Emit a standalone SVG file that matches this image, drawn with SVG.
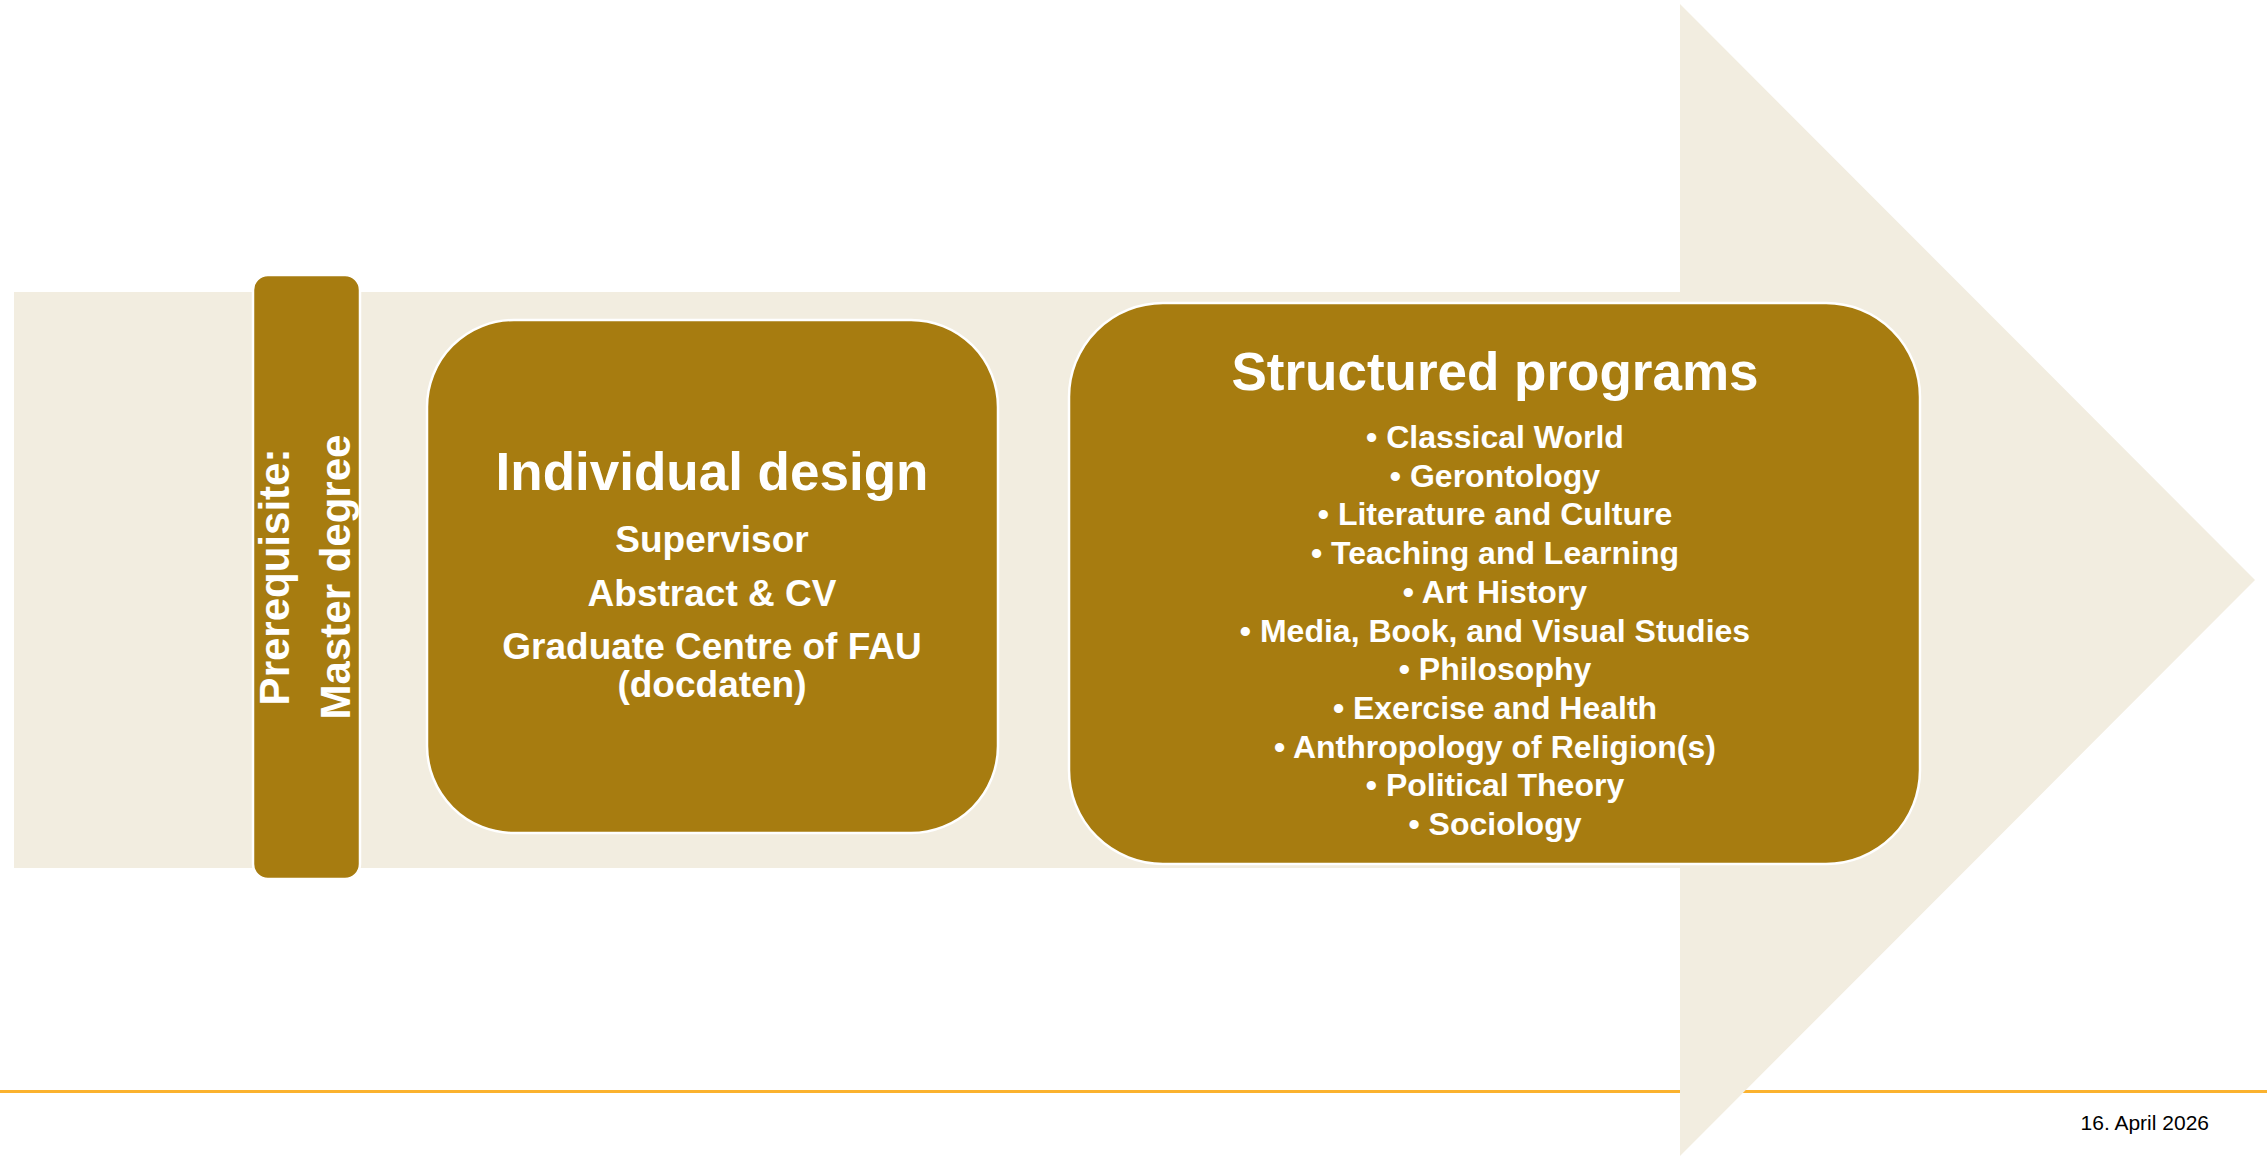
<svg xmlns="http://www.w3.org/2000/svg" width="2267" height="1157" viewBox="0 0 2267 1157">
<style>
.box{fill:#A77C10;stroke:#FFFFFF;stroke-width:2.5}
.t{font-family:"Liberation Sans",Arial,sans-serif;font-weight:bold;fill:#FFFFFF;text-anchor:middle}
.h{font-size:53px}
.s{font-size:37px}
.l{font-size:32px}
.v{font-size:42px}
</style>
<rect x="0" y="0" width="2267" height="1157" fill="#FFFFFF"/>
<line x1="0" y1="1091.5" x2="2267" y2="1091.5" stroke="#FBB22F" stroke-width="3"/>
<polygon id="arrow" points="14,292 1680,292 1680,4 2255,580 1680,1156 1680,868 14,868" fill="#F2EDE0"/>
<g id="prerequisite">
<rect class="box" x="253" y="275" width="107" height="604" rx="15" ry="15"/>
<text class="t v" transform="translate(289,577) rotate(-90)" x="0" y="0">Prerequisite:</text>
<text class="t v" transform="translate(350,577) rotate(-90)" x="0" y="0">Master degree</text>
</g>
<g id="individual">
<rect class="box" x="427" y="320" width="571" height="513" rx="87" ry="87"/>
<text class="t h" x="712" y="490">Individual design</text>
<text class="t s" x="712" y="552">Supervisor</text>
<text class="t s" x="712" y="606">Abstract &amp; CV</text>
<text class="t s" x="712" y="659">Graduate Centre of FAU</text>
<text class="t s" x="712" y="697">(docdaten)</text>
</g>
<g id="structured">
<rect class="box" x="1069" y="303" width="851" height="561" rx="94" ry="94"/>
<text class="t h" x="1495" y="390">Structured programs</text>
<text class="t l" x="1495" y="448">• Classical World</text>
<text class="t l" x="1495" y="486.7">• Gerontology</text>
<text class="t l" x="1495" y="525.4">• Literature and Culture</text>
<text class="t l" x="1495" y="564.1">• Teaching and Learning</text>
<text class="t l" x="1495" y="602.8">• Art History</text>
<text class="t l" x="1495" y="641.5">• Media, Book, and Visual Studies</text>
<text class="t l" x="1495" y="680.2">• Philosophy</text>
<text class="t l" x="1495" y="718.9">• Exercise and Health</text>
<text class="t l" x="1495" y="757.6">• Anthropology of Religion(s)</text>
<text class="t l" x="1495" y="796.3">• Political Theory</text>
<text class="t l" x="1495" y="835">• Sociology</text>
</g>
<g id="connectors"></g>
<text x="2209" y="1130" font-family="'Liberation Sans',Arial,sans-serif" font-size="21" fill="#000000" text-anchor="end">16. April 2026</text>
</svg>
